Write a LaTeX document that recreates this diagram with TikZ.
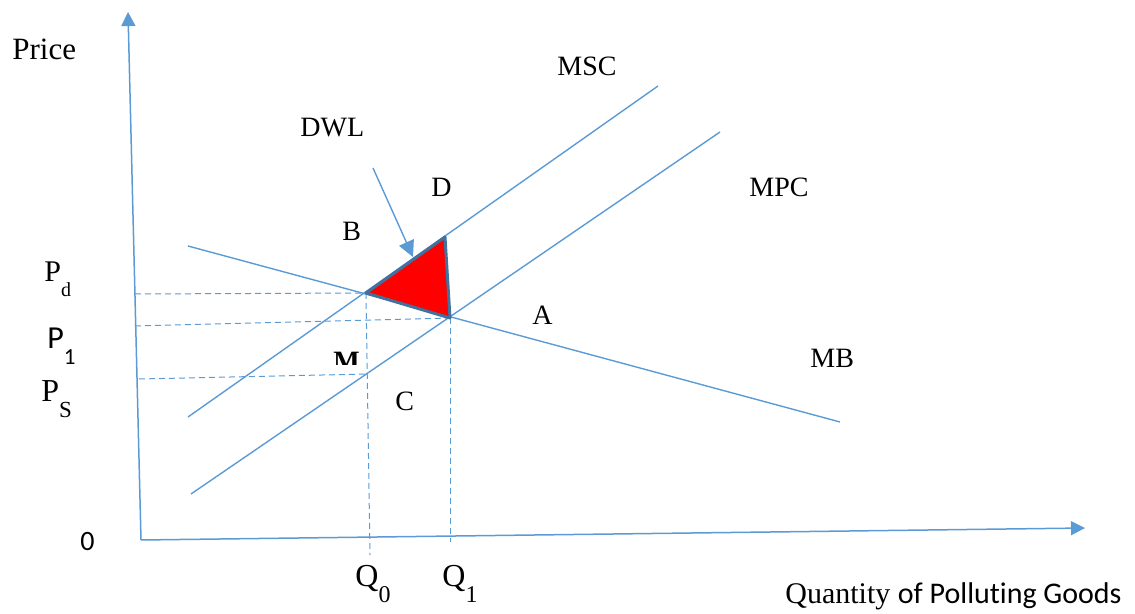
\documentclass[tikz,border=0pt]{standalone}
\usepackage{fontspec}
\setmainfont{Liberation Serif}
\newfontfamily\calib[Ligatures=NoCommon]{Carlito}
\usetikzlibrary{arrows.meta}
\definecolor{offBlue}{HTML}{5B9BD5}
\definecolor{offBlueS}{HTML}{41719C}
\definecolor{dwlRed}{HTML}{FF0000}
\newcommand{\lowsub}[2]{\raisebox{-0.5em}{\fontsize{#1}{#1}\selectfont #2}}
\tikzset{
  axis/.style={draw=offBlue, line width=0.75pt, -{Triangle[length=7pt, width=7pt]}},
  curve/.style={draw=offBlue, line width=0.7pt},
  guide/.style={draw=offBlue, line width=0.5pt, dash pattern=on 3pt off 2pt},
  lbl/.style={anchor=base west, inner sep=0pt, font=\fontsize{14}{16}\selectfont},
  big/.style={lbl, font=\fontsize{16}{18}\selectfont},
}
\begin{document}
\begin{tikzpicture}[x=0.5pt, y=-0.5pt]
  \useasboundingbox (0,0) rectangle (1135,614);

  % ---- Axes ----------------------------------------------------------------
  \coordinate (orig) at (141,540);
  \coordinate (ytop) at (128,12);
  \coordinate (xend) at (1085,528);
  \draw[axis] (orig) -- (ytop);
  \draw[axis] (orig) -- (xend);

  % ---- Curves --------------------------------------------------------------
  \coordinate (mbL)  at (188,246);
  \coordinate (mbR)  at (840,422);
  \coordinate (mscL) at (188,417);
  \coordinate (mscR) at (658,86);
  \coordinate (mpcL) at (191,494);
  \coordinate (mpcR) at (720,132);
  \draw[curve] (mbL) -- (mbR);
  \draw[curve] (mscL) -- (mscR);
  \draw[curve] (mpcL) -- (mpcR);

  % ---- Key points ----------------------------------------------------------
  \coordinate (ptB) at (366,293);
  \coordinate (ptD) at (445,237);
  \coordinate (ptA) at (450,318);
  \coordinate (ptM) at (368,374);

  % ---- Guide lines ---------------------------------------------------------
  \coordinate (pdL) at (135,294);
  \coordinate (p1L) at (135,326);
  \coordinate (psL) at (139,379);
  \coordinate (q0B) at (370,555);
  \coordinate (q1B) at (450,542);
  \draw[guide] (pdL) -- (ptB);
  \draw[guide] (p1L) -- (ptA);
  \draw[guide] (psL) -- (ptM);
  \draw[guide] (ptB) -- (q0B);
  \draw[guide] (ptA) -- (q1B);

  % ---- Dead weight loss ----------------------------------------------------
  \draw[fill=dwlRed, draw=offBlueS, line width=1.5pt, line join=round]
    (ptB) -- (ptD) -- (ptA) -- cycle;
  \coordinate (dwlTail) at (373,168);
  \coordinate (dwlTip)  at (413,257);
  \draw[draw=offBlue, line width=0.7pt, -{Triangle[length=8pt, width=8pt]}]
    (dwlTail) -- (dwlTip);

  % ---- Labels --------------------------------------------------------------
  \node[lbl, font=\fontsize{15.5}{18}\selectfont] (price) at (12,60) {Price};
  \node[lbl] (msc) at (557,76)  {MSC};
  \node[lbl] (mpc) at (749,197) {MPC};
  \node[lbl] (mb)  at (810,368) {MB};
  \node[lbl] (dwl) at (300,137) {DWL};
  \node[lbl] (lD)  at (431,197) {D};
  \node[lbl] (lB)  at (342,241) {B};
  \node[lbl] (lA)  at (532,325) {A};
  \node[lbl] (lC)  at (395,411) {C};
  \begin{scope}
    \clip (325,345) rectangle (370,365);
    \node[lbl] (lM) at (333,371) {\textbf{M}};
  \end{scope}
  \node[lbl, font=\fontsize{15}{18}\selectfont] (pd) at (44,282) {P\lowsub{10}{d}};
  \node[big, font=\calib\fontsize{16}{18}\selectfont] (p1) at (47,349) {P\lowsub{11.5}{\calib 1}};
  \node[big] (ps) at (41,402) {P\lowsub{11.5}{S}};
  \node[lbl, font=\calib\fontsize{14}{16}\selectfont] (zero) at (80,550) {0};
  \node[big] (q0) at (355,586) {Q\lowsub{12}{0}};
  \node[big] (q1) at (442,586) {Q\lowsub{12}{1}};
  \node[lbl, font=\fontsize{15}{18}\selectfont] (qty) at (785,603)
    {Quantity {\calib of Polluting Goods}};

\end{tikzpicture}
\end{document}
